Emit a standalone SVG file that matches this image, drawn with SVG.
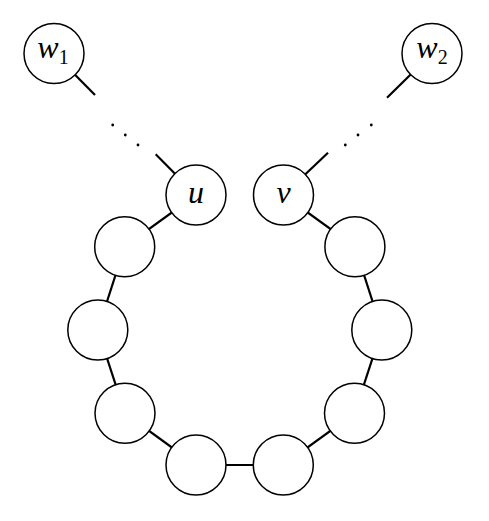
<svg xmlns="http://www.w3.org/2000/svg" width="489" height="521" viewBox="0 0 489 521">
<style>
.node circle{fill:#fff;stroke:#000;stroke-width:1.5}
.edges line{stroke:#000;stroke-width:2.2}
.edges circle{fill:#000}
.lbl{font-family:"Liberation Serif","Times New Roman",serif;font-style:italic;font-size:32px;text-anchor:middle}
.sub{font-style:normal;font-size:20px}
</style>
<rect width="489" height="521" fill="#fff"/>
<g id="connectors" class="edges">
<line x1="54" y1="53.5" x2="95" y2="95"/>
<line x1="155.7" y1="154.3" x2="196" y2="195"/>
<circle cx="112.7" cy="125" r="1.4"/>
<circle cx="125.3" cy="135" r="1.4"/>
<circle cx="138" cy="145" r="1.4"/>
<line x1="432" y1="53.5" x2="387" y2="97.7"/>
<line x1="328" y1="152.7" x2="283.5" y2="195"/>
<circle cx="371.3" cy="125" r="1.4"/>
<circle cx="358" cy="135" r="1.4"/>
<circle cx="345.3" cy="145" r="1.4"/>
<line x1="196" y1="195" x2="124.7" y2="246.7"/>
<line x1="124.7" y1="246.7" x2="97.8" y2="330"/>
<line x1="97.8" y1="330" x2="125" y2="413.3"/>
<line x1="125" y1="413.3" x2="196" y2="465"/>
<line x1="196" y1="465" x2="283.3" y2="465"/>
<line x1="283.3" y1="465" x2="354.5" y2="413.3"/>
<line x1="354.5" y1="413.3" x2="381.8" y2="330"/>
<line x1="381.8" y1="330" x2="354.9" y2="246.7"/>
<line x1="354.9" y1="246.7" x2="283.5" y2="195"/>
</g>
<g id="w1" class="node"><circle cx="54" cy="53.5" r="30"/><text class="lbl" x="53" y="58">w<tspan class="sub" dy="6">1</tspan></text></g>
<g id="w2" class="node"><circle cx="432" cy="53.5" r="30"/><text class="lbl" x="432" y="58">w<tspan class="sub" dy="6">2</tspan></text></g>
<g id="u" class="node"><circle cx="196" cy="195" r="30"/><text class="lbl" x="196" y="203">u</text></g>
<g id="v" class="node"><circle cx="283.5" cy="195" r="30"/><text class="lbl" x="283.5" y="203">v</text></g>
<g id="n1" class="node"><circle cx="124.7" cy="246.7" r="30"/></g>
<g id="n2" class="node"><circle cx="97.8" cy="330" r="30"/></g>
<g id="n3" class="node"><circle cx="125" cy="413.3" r="30"/></g>
<g id="n4" class="node"><circle cx="196" cy="465" r="30"/></g>
<g id="n5" class="node"><circle cx="283.3" cy="465" r="30"/></g>
<g id="n6" class="node"><circle cx="354.5" cy="413.3" r="30"/></g>
<g id="n7" class="node"><circle cx="381.8" cy="330" r="30"/></g>
<g id="n8" class="node"><circle cx="354.9" cy="246.7" r="30"/></g>
</svg>
